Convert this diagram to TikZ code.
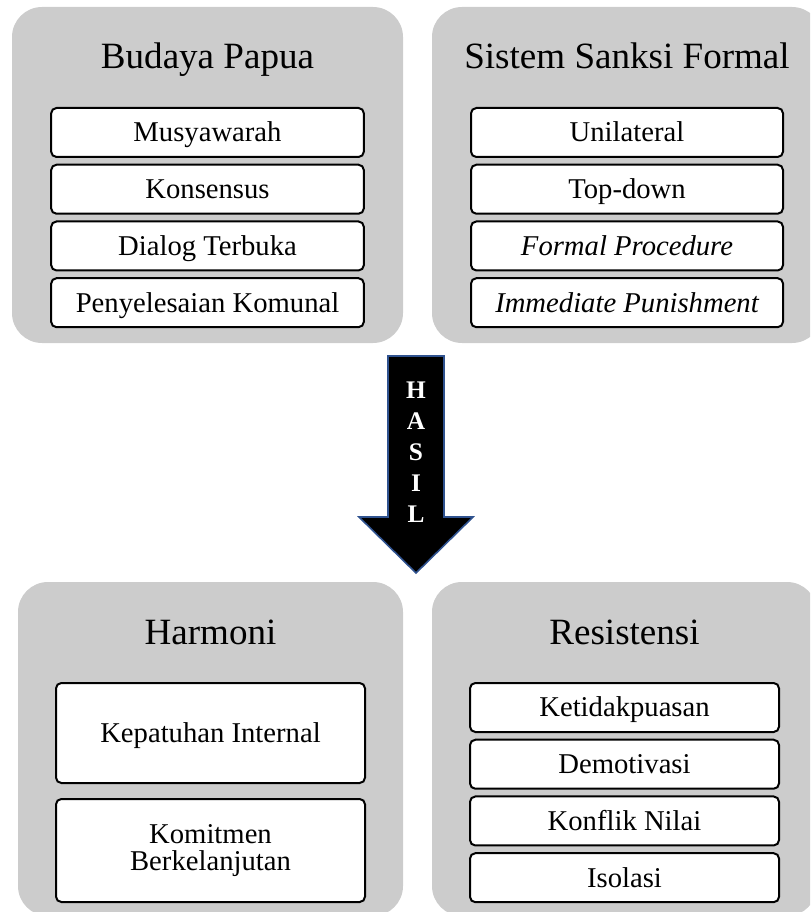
\documentclass[tikz,border=0pt]{standalone}
\usepackage{fontspec}
\setmainfont{Liberation Serif}
\usepackage{xcolor}
\usepackage{tikz}
\usetikzlibrary{positioning}

\definecolor{panelgray}{RGB}{204,204,204}
\definecolor{arrowblue}{RGB}{47,82,143}

\begin{document}
\begin{tikzpicture}[
    x=0.75pt, y=-0.75pt,
    node distance=4.3pt,
    panel/.style={fill=panelgray, rounded corners=22.5pt},
    heading/.style={anchor=base, inner sep=0pt, font=\fontsize{27.8}{30}\selectfont},
    item/.style={rectangle, draw, line width=1.5pt, fill=white, rounded corners=4pt,
        minimum width=234.5pt, minimum height=36.75pt, inner sep=0pt,
        text height=14.2pt, text depth=0pt, font=\fontsize{21.5}{20.5}\selectfont},
    tallitem/.style={rectangle, draw, line width=1.5pt, fill=white, rounded corners=4pt,
        minimum width=231.75pt, inner sep=0pt, align=center,
        font=\fontsize{21.5}{20.5}\selectfont},
    bigarrow/.style={fill=black, draw=arrowblue, line width=1.2pt},
    arrowtext/.style={text=white, align=center, inner sep=0pt,
        font=\fontsize{19}{23.25}\selectfont\bfseries}
]
    \clip (0,0) rectangle (810,912);

    % Panels
    \fill[panel] (12,7) rectangle (403,343);
    \fill[panel] (432,7) rectangle (822,343);
    \fill[panel] (18,582) rectangle (403,916);
    \fill[panel] (432,582) rectangle (817,916);

    % Top left: Budaya Papua
    \node[heading] (budaya) at (207.5,69) {Budaya Papua};
    \node[item] (musyawarah) at (207.5,132.5) {Musyawarah};
    \node[item, below=of musyawarah] (konsensus) {Konsensus};
    \node[item, below=of konsensus] (dialog) {Dialog Terbuka};
    \node[item, below=of dialog] (penyelesaian) {Penyelesaian Komunal};

    % Top right: Sistem Sanksi Formal
    \node[heading] (sanksi) at (627,69) {Sistem Sanksi Formal};
    \node[item, minimum width=234pt] (unilateral) at (627,132.5) {Unilateral};
    \node[item, minimum width=234pt, below=of unilateral] (topdown) {Top-down};
    \node[item, minimum width=234pt, below=of topdown] (prosedur) {\itshape Formal Procedure};
    \node[item, minimum width=234pt, below=of prosedur] (hukuman) {\itshape Immediate Punishment};

    % Arrow
    \filldraw[bigarrow] (388,356) -- (444,356) -- (444,517) -- (473,517)
        -- (416,573) -- (359,517) -- (388,517) -- cycle;
    \node[arrowtext] (hasil) at (416,452) {H\\A\\S\\I\\L};

    % Bottom left: Harmoni
    \node[heading] (harmoni) at (210.5,644) {Harmoni};
    \node[item, minimum width=231.75pt, minimum height=75pt] (kepatuhan) at (210.5,733) {Kepatuhan Internal};
    \node[tallitem, minimum height=77.25pt, below=10.5pt of kepatuhan] (komitmen) {Komitmen\\Berkelanjutan};

    % Bottom right: Resistensi
    \node[heading] (resistensi) at (624.5,644) {Resistensi};
    \node[item, minimum width=231.75pt] (ketidakpuasan) at (624.5,707.5) {Ketidakpuasan};
    \node[item, minimum width=231.75pt, below=of ketidakpuasan] (demotivasi) {Demotivasi};
    \node[item, minimum width=231.75pt, below=of demotivasi] (konflik) {Konflik Nilai};
    \node[item, minimum width=231.75pt, below=of konflik] (isolasi) {Isolasi};
\end{tikzpicture}
\end{document}
